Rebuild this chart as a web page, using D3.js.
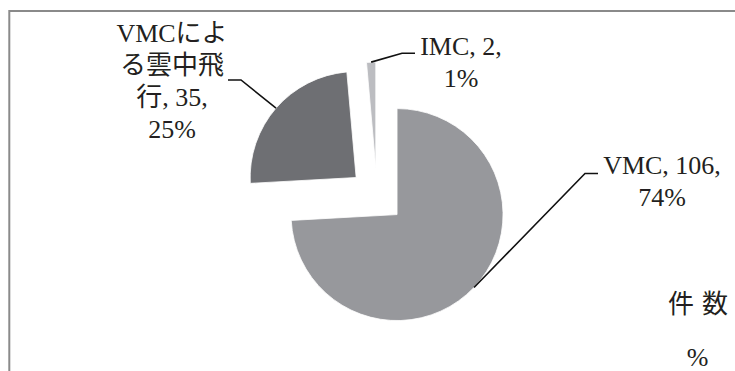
<!DOCTYPE html>
<html>
<head>
<meta charset="utf-8">
<script src="https://cdn.jsdelivr.net/npm/d3@7"></script>
<style>
  html, body { margin: 0; padding: 0; background: #fff; }
  svg { display: block; }
  text { font-family: "Liberation Serif", "Noto Sans CJK JP", serif; fill: #231f20; }
</style>
</head>
<body>
<svg id="chart" width="735" height="371"></svg>
<script>
// Flight conditions: number of cases and share
const categories = ["VMC", "VMCによる雲中飛行", "IMC"];
const counts = [106, 35, 2];
const percents = [74, 25, 1];
const sliceColors = ["#97989c", "#6e6f73", "#bcbdc1"];
const seriesNames = ["件数", "%"];

// Layout
const W = 735, H = 371;
const cx = 377, cy = 195.6;
const radius = 106;
const explode = 27.6;
const fontSize = 26;
const lineHeight = 32;
// label anchor (centre x, first baseline), leader attach point and wrap width
const labelLayout = [
  { x: 662, y: 174, lineY: 173.5, endX: 598, side: 1, wrap: 140 },
  { x: 172, y: 42, lineY: 80, endX: 228, side: -1, wrap: 120 },
  { x: 461, y: 55, lineY: 53.3, endX: 415, side: 1, wrap: 100 }
];

const svg = d3.select("#chart");

svg.append("rect")
  .attr("x", 0).attr("y", 0).attr("width", W).attr("height", H)
  .attr("fill", "#fff");

// chart-area frame (runs past the right and bottom edges)
svg.append("rect")
  .attr("x", 9.3).attr("y", 11)
  .attr("width", 900).attr("height", 500)
  .attr("fill", "none")
  .attr("stroke", "#8a8a8a")
  .attr("stroke-width", 2);

const pie = d3.pie().sort(null).value(d => d)(counts);
const arc = d3.arc().innerRadius(0).outerRadius(radius);

function offset(d, dist) {
  const mid = (d.startAngle + d.endAngle) / 2;
  return [Math.sin(mid) * dist, -Math.cos(mid) * dist];
}

const g = svg.append("g").attr("transform", `translate(${cx},${cy})`);

g.selectAll("path.slice")
  .data(pie)
  .join("path")
  .attr("class", "slice")
  .attr("d", arc)
  .attr("transform", d => {
    const [dx, dy] = offset(d, explode);
    return `translate(${dx},${dy})`;
  })
  .attr("fill", (d, i) => sliceColors[i])
  .attr("stroke", "#fff")
  .attr("stroke-width", 0.8);

// text measurement helper for wrapping
const measure = svg.append("text")
  .attr("font-size", fontSize)
  .attr("visibility", "hidden");
function textWidth(s) {
  measure.text(s);
  return measure.node().getComputedTextLength();
}

// split into tokens: each CJK glyph alone, Latin words kept whole, spaces separate
function tokenize(s) {
  const tokens = [];
  let buf = "";
  for (const ch of s) {
    if (/[\u3000-\u9fff]/.test(ch)) {
      if (buf) { tokens.push(buf); buf = ""; }
      tokens.push(ch);
    } else if (ch === " ") {
      if (buf) { tokens.push(buf); buf = ""; }
      tokens.push(" ");
    } else {
      buf += ch;
    }
  }
  if (buf) tokens.push(buf);
  return tokens;
}

function wrap(s, maxW) {
  const tokens = tokenize(s);
  const lines = [];
  let cur = "";
  for (const t of tokens) {
    const trial = cur + t;
    if (cur.trim() && textWidth(trial.trimEnd()) > maxW) {
      lines.push(cur.trimEnd());
      cur = t === " " ? "" : t;
    } else {
      cur = trial;
    }
  }
  if (cur.trim()) lines.push(cur.trimEnd());
  return lines;
}

// data labels with leader lines
pie.forEach((d, i) => {
  const L = labelLayout[i];
  const label = `${categories[i]}, ${counts[i]}, ${percents[i]}%`;
  const lines = wrap(label, L.wrap);

  const t = svg.append("text")
    .attr("font-size", fontSize)
    .attr("text-anchor", "middle");
  lines.forEach((ln, k) => {
    t.append("tspan")
      .attr("x", L.x)
      .attr("y", L.y + k * lineHeight)
      .text(ln);
  });

  const [ox, oy] = offset(d, explode + radius);
  const start = [cx + ox, cy + oy];
  const elbow = [L.endX - 13 * L.side, L.lineY];
  const end = [L.endX, L.lineY];
  svg.append("path")
    .attr("d", d3.line()([start, elbow, end]))
    .attr("fill", "none")
    .attr("stroke", "#111")
    .attr("stroke-width", 1.6);
});

measure.remove();

// series names shown at the lower right
svg.append("text")
  .attr("font-size", fontSize)
  .attr("x", 668).attr("y", 313)
  .attr("letter-spacing", 8)
  .text(seriesNames[0]);
svg.append("text")
  .attr("font-size", fontSize)
  .attr("text-anchor", "middle")
  .attr("x", 697.5).attr("y", 366)
  .text(seriesNames[1]);
</script>
</body>
</html>
